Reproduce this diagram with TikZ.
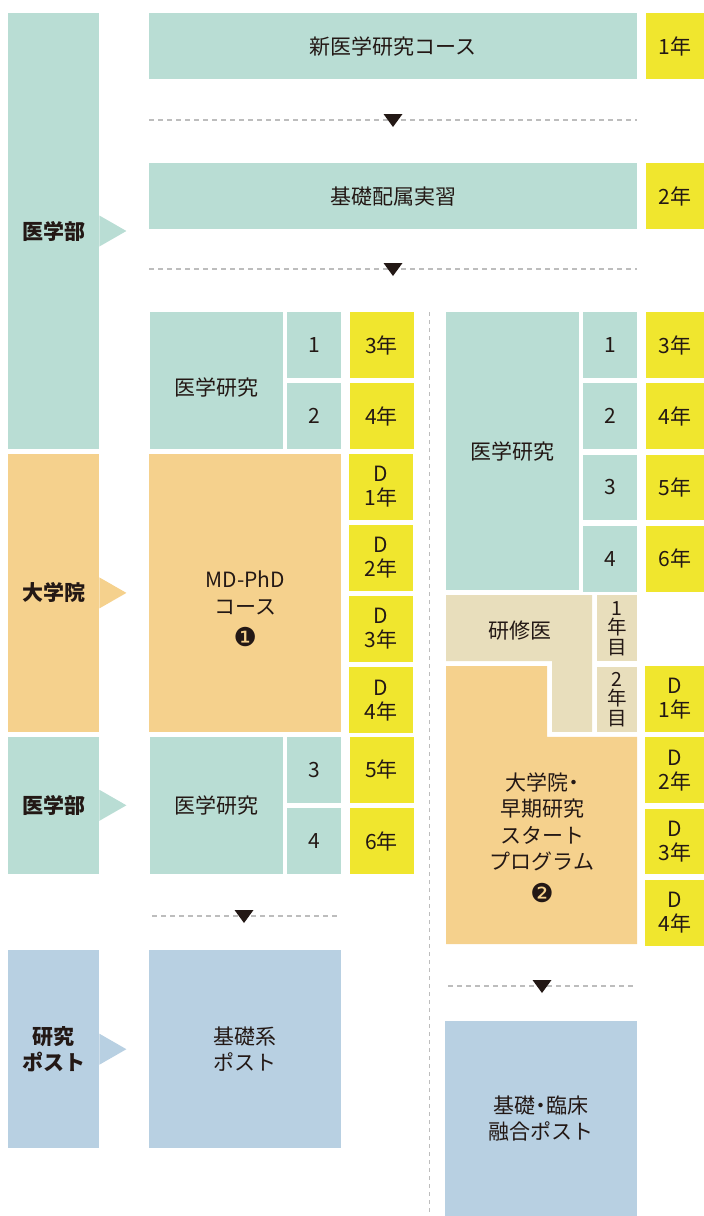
\documentclass[tikz,border=0pt]{standalone}
\usepackage{fontspec}
\setmainfont{Noto Sans CJK JP}
\newfontfamily\dingfont{DejaVu Sans}
\usepackage{tikz}
\usetikzlibrary{positioning}

\definecolor{mint}{HTML}{B9DDD4}
\definecolor{lemon}{HTML}{F0E62E}
\definecolor{peach}{HTML}{F5D18D}
\definecolor{sand}{HTML}{E8DEBC}
\definecolor{sky}{HTML}{B8D0E2}
\definecolor{ink}{HTML}{231815}
\definecolor{dashgray}{HTML}{BDBDBD}

\begin{document}
\begin{tikzpicture}[
    x=1pt, y=-1pt,
    cell/.style={rectangle, inner sep=0pt, align=center, text=ink, font=\fontsize{21}{26.5}\selectfont},
    med/.style={cell, fill=mint},
    grad/.style={cell, fill=peach},
    post/.style={cell, fill=sky},
    num/.style={med, minimum width=54pt, minimum height=65.8pt},
    year/.style={cell, fill=lemon, minimum width=59pt, minimum height=65.8pt},
    dyear/.style={year, font=\fontsize{21}{24}\selectfont},
    intern/.style={cell, fill=sand, minimum width=40pt, minimum height=65.8pt, font=\fontsize{19.5}{19.5}\selectfont\lineskiplimit-30pt},
    stage/.style={cell, minimum width=91pt, font=\fontsize{21}{26.5}\selectfont\bfseries},
    divider/.style={draw=dashgray, line width=1.2pt, dash pattern=on 5pt off 4pt},
    drop/.style={fill=ink}
]
\useasboundingbox (0,0) rectangle (704,1216);

% Stage labels (left column)
\node[stage, fill=mint, anchor=north west, minimum height=435.6pt] (faculty1) at (8,13) {医学部};
\fill[mint] (faculty1.east) ++(0,-15.5) -- ++(27,15.5) -- ++(-27,15.5) -- cycle;
\node[stage, fill=peach, anchor=north west, minimum height=278.2pt] (gradschool) at (8,453.6) {大学院};
\fill[peach] (gradschool.east) ++(0,-15.5) -- ++(27,15.5) -- ++(-27,15.5) -- cycle;
\node[stage, fill=mint, anchor=north west, minimum height=136.6pt] (faculty2) at (8,736.8) {医学部};
\fill[mint] (faculty2.east) ++(0,-15.5) -- ++(27,15.5) -- ++(-27,15.5) -- cycle;
\node[stage, fill=sky, anchor=north west, minimum height=198pt] (research) at (8,950) {研究\\ポスト};
\fill[sky] (research.east) ++(0,-15.5) -- ++(27,15.5) -- ++(-27,15.5) -- cycle;

% Years 1-2 (full width)
\node[med, anchor=north west, minimum width=488pt, minimum height=65.8pt] (newcourse) at (149,13) {新医学研究コース};
\node[year, right=8pt of newcourse] (year1) {1年};
\draw[divider] (149,120) -- (637,120);
\fill[drop] (393,127) -- ++(-9.5,-13) -- ++(19,0) -- cycle;
\node[med, anchor=north west, minimum width=488pt, minimum height=65.8pt] (basic) at (149,163) {基礎配属実習};
\node[year, right=8pt of basic] (year2) {2年};
\draw[divider] (149,269) -- (637,269);
\fill[drop] (393,276) -- ++(-9.5,-13) -- ++(19,0) -- cycle;

% Left track: MD-PhD
\node[med, anchor=north west, minimum width=133pt, minimum height=136.6pt] (studyA) at (150,312) {};
\node[cell] (studyAlabel) at ([yshift=-7pt]studyA.center) {医学研究};
\node[num, anchor=north west] (studyA1) at (287,312) {1};
\node[num, below=5pt of studyA1] (studyA2) {2};
\node[year, minimum width=64pt, right=8pt of studyA1] (yearA3) {3年};
\node[year, minimum width=64pt, below=5pt of yearA3] (yearA4) {4年};

\node[grad, anchor=north west, minimum width=192pt, minimum height=278.2pt] (mdphd) at (149,453.6) {};
\node[cell] (mdphdlabel) at ([yshift=-16pt]mdphd.center) {MD-PhD\\コース\\[6pt]{\dingfont\fontsize{26}{28}\selectfont ❶}};
\node[dyear, minimum width=64pt, anchor=north west] (yearAD1) at (349,453.6) {D\\1年};
\node[dyear, minimum width=64pt, below=5pt of yearAD1] (yearAD2) {D\\2年};
\node[dyear, minimum width=64pt, below=5pt of yearAD2] (yearAD3) {D\\3年};
\node[dyear, minimum width=64pt, below=5pt of yearAD3] (yearAD4) {D\\4年};

\node[med, anchor=north west, minimum width=133pt, minimum height=136.6pt] (studyB) at (150,736.8) {医学研究};
\node[num, anchor=north west] (studyB3) at (287,736.8) {3};
\node[num, below=5pt of studyB3] (studyB4) {4};
\node[year, minimum width=64pt, right=8pt of studyB3] (yearB5) {5年};
\node[year, minimum width=64pt, below=5pt of yearB5] (yearB6) {6年};
\draw[divider] (152,916) -- (339,916);
\fill[drop] (244,923) -- ++(-9.5,-13) -- ++(19,0) -- cycle;
\node[post, anchor=north west, minimum width=192pt, minimum height=198pt] (basicpost) at (149,950) {基礎系\\ポスト};

% Vertical separator
\draw[divider, line width=1pt, dash pattern=on 4pt off 4pt] (429,312) -- (429,1216);

% Right track: early research start program
\node[med, anchor=north west, minimum width=133pt, minimum height=278.2pt] (studyC) at (446,312) {医学研究};
\node[num, anchor=north west] (studyC1) at (583,312) {1};
\node[num, below=5pt of studyC1] (studyC2) {2};
\node[num, below=5pt of studyC2] (studyC3) {3};
\node[num, below=5pt of studyC3] (studyC4) {4};
\node[year, right=8pt of studyC1] (yearC3) {3年};
\node[year, below=5pt of yearC3] (yearC4) {4年};
\node[year, below=5pt of yearC4] (yearC5) {5年};
\node[year, below=5pt of yearC5] (yearC6) {6年};

\fill[sand] (446,595.2) -- (592,595.2) -- (592,731.8) -- (552,731.8) -- (552,661) -- (446,661) -- cycle;
\node[cell] (resident) at (520,631) {研修医};
\node[intern, anchor=north west] (pgy1) at (597,595.2) {1\\年\\目};
\node[intern, below=5pt of pgy1] (pgy2) {2\\年\\目};

\fill[peach] (446,666) -- (547,666) -- (547,736.8) -- (637,736.8) -- (637,944.2) -- (446,944.2) -- cycle;
\node[cell] (early) at (542,837.5) {大学院\kern-5.25pt・\kern-5.25pt\\早期研究\\スタート\\プログラム\\[6pt]{\dingfont\fontsize{26}{28}\selectfont ❷}};
\node[dyear, anchor=north west] (yearCD1) at (645,666) {D\\1年};
\node[dyear, below=5pt of yearCD1] (yearCD2) {D\\2年};
\node[dyear, below=5pt of yearCD2] (yearCD3) {D\\3年};
\node[dyear, below=5pt of yearCD3] (yearCD4) {D\\4年};
\draw[divider] (448,986) -- (635,986);
\fill[drop] (542,993) -- ++(-9.5,-13) -- ++(19,0) -- cycle;
\node[post, anchor=north west, minimum width=192pt, minimum height=195pt] (fusionpost) at (445,1021) {基礎\kern-5.25pt・\kern-5.25pt臨床\\融合ポスト};

\end{tikzpicture}
\end{document}
